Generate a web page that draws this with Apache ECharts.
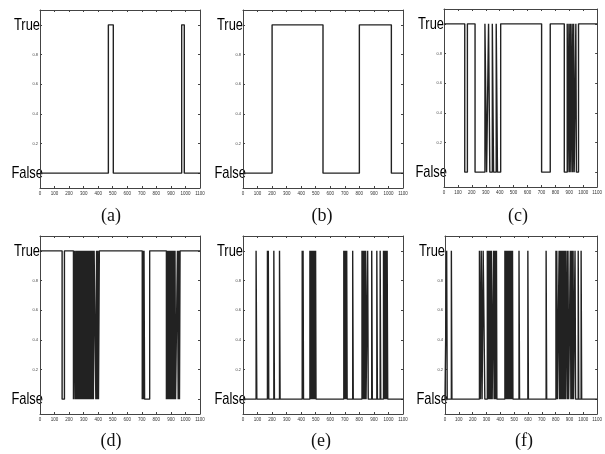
<!DOCTYPE html>
<html>
<head>
<meta charset="utf-8">
<script src="https://cdn.jsdelivr.net/npm/echarts@6/dist/echarts.min.js"></script>
<style>
  html, body { margin: 0; padding: 0; background: #fff; }
  #chart { width: 605px; height: 454px; }
</style>
</head>
<body>
<div id="chart"></div>
<script>
/* global echarts */
// each panel: starting state (0 = False, 1 = True) and the x values where the signal flips
const panel_labels = ['(a)', '(b)', '(c)', '(d)', '(e)', '(f)'];
const y_ticks = [0, 0.2, 0.4, 0.6, 0.8, 1];
const state_names = ['False', 'True'];

const start_a = 0;
const toggles_a = [470, 504, 974, 992];

const start_b = 0;
const toggles_b = [200, 550, 800, 1020];

const start_c = 1;
const toggles_c = [149, 168, 223, 294, 306, 320, 329, 347, 356, 375, 384, 407, 701, 763, 864,
    885, 889, 897, 901, 908, 912, 920, 924, 931, 935, 947, 951, 966];

const start_d = 1;
const toggles_d = [152, 168, 230,
    236, 241, 246, 250, 255, 259, 264, 268, 273, 277, 282, 286, 291, 295, 300, 304, 309, 313,
    318, 322, 327, 331, 336, 340, 345, 349, 354, 358, 363, 367, 372,
    384, 389, 393, 398, 402, 408,
    703, 707, 711, 715, 719, 754,
    869, 874, 878, 883, 887, 892, 896, 901, 905, 910, 914, 919, 923, 928, 932,
    945, 950, 954, 959, 963];

const start_e = 0;
const toggles_e = [90, 95, 168, 172, 174, 177, 212, 216, 251, 255, 407, 411, 413, 416,
    460, 463, 465, 468, 474, 477, 479, 482, 484, 487, 489, 492, 494, 497, 499, 502,
    693, 696, 698, 701, 703, 706, 708, 711, 713, 716, 754, 758,
    818, 821, 823, 826, 828, 831, 833, 836, 838, 841, 843, 846, 857, 861, 885, 889,
    920, 924, 943, 947, 966, 969, 971, 974, 976, 979, 981, 984, 986, 989, 991, 995];

const start_f = 0;
const toggles_f = [12, 16, 46, 50, 249, 256, 262, 268, 276, 288,
    306, 309, 311, 314, 316, 319, 321, 324, 326, 329, 331, 334, 336, 341,
    352, 355, 357, 360, 362, 365, 367, 370, 372, 375,
    433, 436, 438, 441, 443, 446, 448, 451, 453, 456, 458, 461, 463, 466, 468, 471,
    473, 476, 478, 481, 483, 486, 488, 491, 535, 539, 599, 603, 731, 735,
    802, 806, 808, 813, 825, 828, 830, 833, 835, 838, 840, 843, 845, 848, 850, 853,
    855, 858, 860, 863, 865, 868, 870, 873, 882, 886, 889, 894,
    906, 910, 913, 917, 920, 924, 926, 929, 940, 944, 963, 967, 984, 988];

const signals = [
    [start_a, toggles_a], [start_b, toggles_b], [start_c, toggles_c],
    [start_d, toggles_d], [start_e, toggles_e], [start_f, toggles_f]
];

const X_MAX = 1100;

function build_steps(start, toggles) {
    const pts = [[0, start]];
    let v = start;
    toggles.forEach(x => {
        pts.push([x, v]);
        v = 1 - v;
        pts.push([x, v]);
    });
    pts.push([X_MAX, v]);
    return pts;
}

// plot boxes (px)
const box_left = [40, 243, 444, 40, 243, 445];
const box_top = [10, 10, 9, 236, 236, 236];
const box_height = 178;
const box_width = 160;
const label_x = [111, 322, 518, 111, 321, 524];
const label_y = [216, 216, 216, 441, 441, 441];

const line_color = '#222';
const box_color = '#444';

const grids = [], x_axes = [], y_axes = [], series = [], graphics = [];

signals.forEach(([start, toggles], i) => {
    grids.push({ left: box_left[i], top: box_top[i], width: box_width, height: box_height });

    const x_common = {
        type: 'value', gridIndex: i, min: 0, max: X_MAX, interval: 100,
        axisLine: { show: true, onZero: false, lineStyle: { color: box_color, width: 1 } },
        axisTick: { show: true, inside: true, length: 2, lineStyle: { color: box_color } },
        splitLine: { show: false }
    };
    x_axes.push(Object.assign({}, x_common, {
        position: 'bottom',
        axisLabel: { fontSize: 4.5, color: '#333', margin: 3, fontFamily: 'Liberation Sans',
            formatter: v => String(v) }
    }));
    x_axes.push(Object.assign({}, x_common, { position: 'top', axisLabel: { show: false } }));

    const y_common = {
        type: 'value', gridIndex: i, min: -0.1, max: 1.1,
        axisLine: { show: true, onZero: false, lineStyle: { color: box_color, width: 1 } },
        axisTick: { show: true, inside: true, length: 2, customValues: y_ticks, lineStyle: { color: box_color } },
        splitLine: { show: false }
    };
    y_axes.push(Object.assign({}, y_common, {
        position: 'left',
        axisLabel: {
            customValues: y_ticks,
            margin: 2,
            fontSize: 4, color: '#444', fontFamily: 'Liberation Sans',
            // True / False are drawn as narrow graphic text below
            formatter: v => (v === 0 || v === 1) ? '' : String(v)
        }
    }));
    y_axes.push(Object.assign({}, y_common, { position: 'right', axisLabel: { show: false } }));

    series.push({
        type: 'line',
        xAxisIndex: 2 * i,
        yAxisIndex: 2 * i,
        data: build_steps(start, toggles),
        showSymbol: false,
        clip: true,
        lineStyle: { color: line_color, width: 1.4 }
    });

    graphics.push({
        type: 'text',
        x: label_x[i], y: label_y[i],
        style: {
            text: panel_labels[i], fill: '#111',
            font: '18px "Liberation Serif", "DejaVu Serif", serif',
            textAlign: 'center', textVerticalAlign: 'middle'
        }
    });
});

const chart = echarts.init(document.getElementById('chart'));
chart.setOption({
    animation: false,
    backgroundColor: '#fff',
    grid: grids,
    xAxis: x_axes,
    yAxis: y_axes,
    series: series
});

// big condensed True / False labels, placed at the y values 1 and 0 of each panel
signals.forEach((s, i) => {
    [0, 1].forEach(state => {
        const p = chart.convertToPixel({ xAxisIndex: 2 * i, yAxisIndex: 2 * i }, [0, state]);
        graphics.push({
            type: 'text',
            x: p[0] + (state === 0 ? 3 : 0), y: p[1],
            scaleX: 0.76,
            style: {
                text: state_names[state], fill: '#000',
                font: '17px "Liberation Sans", Arial, sans-serif',
                textAlign: 'right', textVerticalAlign: 'middle'
            }
        });
    });
});
chart.setOption({ graphic: graphics });
</script>
</body>
</html>
